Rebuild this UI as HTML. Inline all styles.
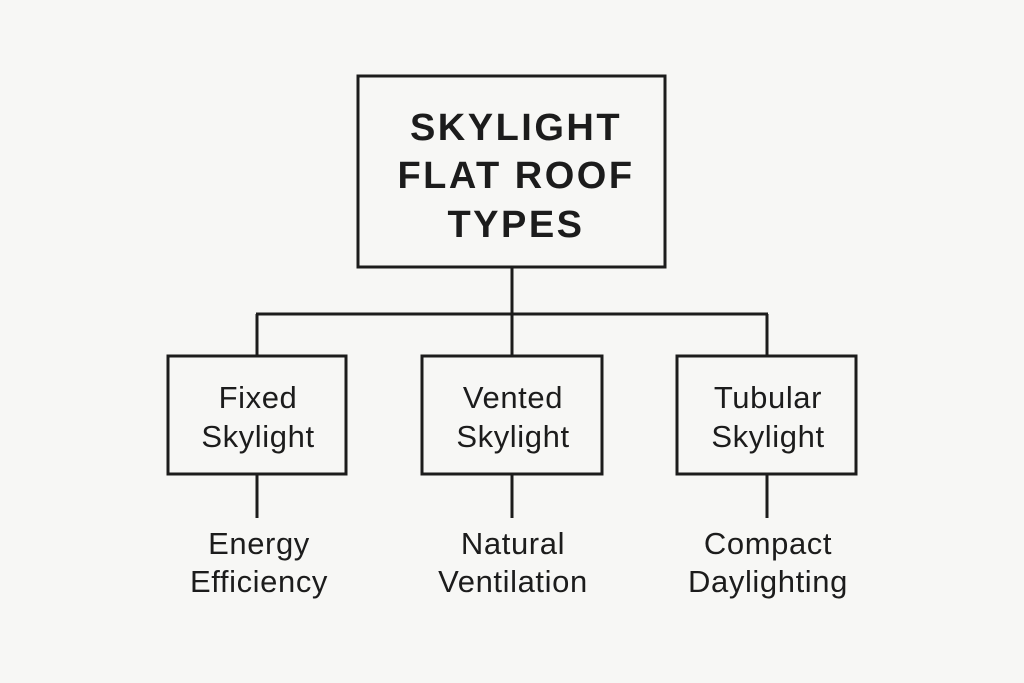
<!DOCTYPE html>
<html><head><style>
html,body{margin:0;padding:0;background:#f7f7f5;}
svg{display:block}
text{font-family:"Liberation Sans","DejaVu Sans",sans-serif;fill:#1c1c1c;text-anchor:middle}
</style></head><body>
<svg width="1024" height="683" viewBox="0 0 1024 683">
<rect width="1024" height="683" fill="#f7f7f5"/>
<g stroke="#1c1c1c" stroke-width="3" fill="none">
<rect x="358" y="76" width="307" height="191"/>
<line x1="512" y1="267" x2="512" y2="356"/>
<line x1="256" y1="314" x2="768" y2="314"/>
<line x1="257" y1="314" x2="257" y2="356"/>
<line x1="767" y1="314" x2="767" y2="356"/>
<rect x="168" y="356" width="178" height="118"/>
<rect x="422" y="356" width="180" height="118"/>
<rect x="677" y="356" width="179" height="118"/>
<line x1="257" y1="474" x2="257" y2="518"/>
<line x1="512" y1="474" x2="512" y2="518"/>
<line x1="767" y1="474" x2="767" y2="518"/>
</g>
<g font-size="38" font-weight="bold" letter-spacing="2.5">
<text x="516" y="140">SKYLIGHT</text>
<text x="516" y="188">FLAT ROOF</text>
<text x="516" y="237">TYPES</text>
</g>
<g font-size="31" letter-spacing="0.6">
<text x="258" y="408">Fixed</text>
<text x="258" y="447">Skylight</text>
<text x="513" y="408">Vented</text>
<text x="513" y="447">Skylight</text>
<text x="768" y="408">Tubular</text>
<text x="768" y="447">Skylight</text>
<text x="259" y="554">Energy</text>
<text x="259" y="592">Efficiency</text>
<text x="513" y="554">Natural</text>
<text x="513" y="592">Ventilation</text>
<text x="768" y="554">Compact</text>
<text x="768" y="592">Daylighting</text>
</g>
</svg>
</body></html>
